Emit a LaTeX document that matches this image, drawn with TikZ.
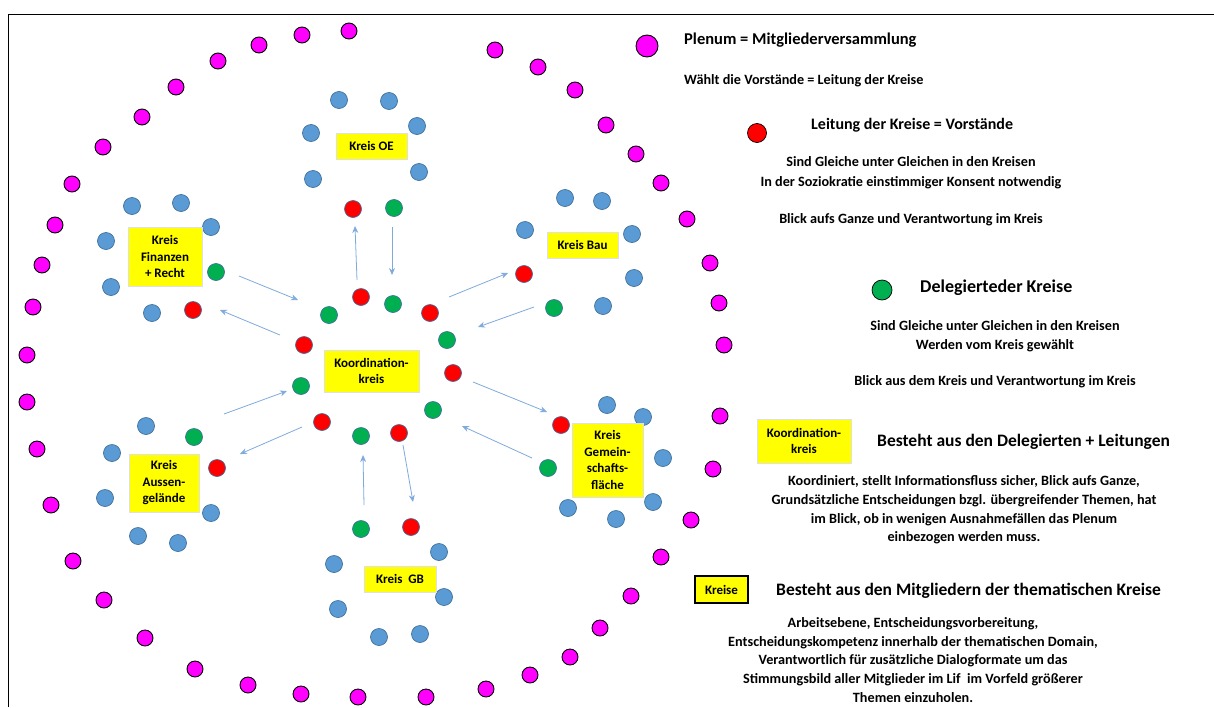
\documentclass[tikz,border=0pt]{standalone}
\usepackage{fontspec}
\setmainfont{Carlito}
\usetikzlibrary{arrows.meta, positioning}
\definecolor{memberblue}{HTML}{5B9BD5}
\definecolor{memberline}{HTML}{41719C}
\definecolor{leadred}{HTML}{FF0000}
\definecolor{delegreen}{HTML}{00B050}
\definecolor{plenummag}{HTML}{FF00FF}
\definecolor{boxyellow}{HTML}{FFFF00}
\definecolor{flowblue}{HTML}{7FAADC}
\tikzset{
  dot/.style={circle, inner sep=0pt, minimum size=17pt, line width=0.7pt, draw=memberline},
  member/.style={dot, fill=memberblue},
  lead/.style={dot, fill=leadred},
  deleg/.style={dot, fill=delegreen},
  plenum/.style={dot, fill=plenummag, draw=black, line width=0.9pt, minimum size=16pt},
  kreisbox/.style={fill=boxyellow, draw=black!12, line width=0.6pt, inner sep=0pt, align=center, font=\bfseries\fontsize{13}{16.5}\selectfont},
  flow/.style={draw=flowblue, line width=0.8pt, -{Stealth[length=7pt, width=6pt]}},
  headline/.style={font=\bfseries\fontsize{17.5}{20}\selectfont, inner sep=0pt},
  body/.style={font=\bfseries\fontsize{14.2}{18.6}\selectfont, align=center, inner sep=0pt},
}
\newcommand{\dotgroup}[3]{%
  \foreach \x/\y [count=\i] in {#3} {
    \node[#2] (#1\i) at (\x,\y) {};
  }%
}

\begin{document}
\begin{tikzpicture}[x=1pt, y=-1pt]
  \useasboundingbox (0,0) rectangle (1214,707);
  \draw[line width=1pt] (8,707) -- (8,14) -- (1214,14);

  % Plenum ring
  \dotgroup{pl}{plenum}{349/31, 302/35, 259/45, 218/61, 176/87, 142/117, 103/147, 72/184,
    55/225, 42/265, 33/307, 27/355, 27/402, 37/449, 51/505, 73/561, 104/600, 145/638,
    195/669, 248/685, 301/694, 358/697, 426/697, 486/689, 530/675, 570/657, 600/628,
    631/596, 661/557, 691/520, 713/469, 720/416, 724/345, 719/303, 710/263, 687/219,
    661/183, 636/154, 606/125, 575/90, 538/67, 495/50}

  % Kreis OE
  \dotgroup{oe}{member}{339/100, 389/101, 417/126, 311/133, 313/179, 419/172}
  \node[lead] (oel) at (353,209) {};
  \node[deleg] (oed) at (394,208) {};
  \node[kreisbox, minimum width=71pt, minimum height=26pt] (oebox) at (371.5,146) {Kreis OE};

  % Kreis Finanzen + Recht
  \dotgroup{fi}{member}{132/206, 181/203, 211/227, 106/241, 111/287, 152/313}
  \node[deleg] (fid) at (216,272) {};
  \node[lead] (fil) at (193,310) {};
  \node[kreisbox, minimum width=74pt, minimum height=59pt] (fibox) at (165,256.5) {Kreis\\Finanzen\\+ Recht};

  % Kreis Bau
  \dotgroup{ba}{member}{565/198, 602/201, 525/230, 632/234, 634/278, 603/306}
  \node[lead] (bal) at (524,274) {};
  \node[deleg] (bad) at (554,308) {};
  \node[kreisbox, minimum width=71pt, minimum height=26pt] (babox) at (582.5,245) {Kreis Bau};

  % Kreis Gemeinschaftsflaeche
  \dotgroup{ge}{member}{607/405, 643/417, 663/458, 653/502, 568/508, 616/519}
  \node[lead] (gel) at (561,425) {};
  \node[deleg] (ged) at (548,468) {};
  \node[kreisbox, minimum width=71pt, minimum height=74pt] (gebox) at (607.5,460) {Kreis\\Gemein-\\schafts-\\fläche};

  % Kreis GB
  \dotgroup{gb}{member}{439/552, 334/564, 444/597, 338/609, 379/637, 420/634}
  \node[deleg] (gbd) at (361,529) {};
  \node[lead] (gbl) at (411,527) {};
  \node[kreisbox, minimum width=72pt, minimum height=26pt] (gbbox) at (400,579) {Kreis\ \ GB};

  % Kreis Aussengelaende
  \dotgroup{au}{member}{146/426, 112/453, 105/498, 138/536, 178/543, 211/513}
  \node[deleg] (aud) at (194,437) {};
  \node[lead] (aul) at (217,468) {};
  \node[kreisbox, minimum width=70pt, minimum height=58pt] (aubox) at (164,483) {Kreis\\Aussen-\\gelände};

  % Koordinationskreis
  \node[lead] (ko1) at (361,297) {};
  \node[deleg] (ko2) at (393,304) {};
  \node[lead] (ko3) at (430,313) {};
  \node[deleg] (ko4) at (447,340) {};
  \node[lead] (ko5) at (453,373) {};
  \node[deleg] (ko6) at (433,410) {};
  \node[lead] (ko7) at (399,433) {};
  \node[deleg] (ko8) at (361,436) {};
  \node[lead] (ko9) at (322,422) {};
  \node[deleg] (ko10) at (301,386) {};
  \node[lead] (ko11) at (304,345) {};
  \node[deleg] (ko12) at (329,315) {};
  \node[kreisbox, minimum width=95pt, minimum height=42pt] (kobox) at (371.5,371) {Koordination-\\kreis};

  % flows between the circles
  \foreach \n/\sx/\sy/\ex/\ey in {oeup/357/280/355/226, oedown/392/227/392/275,
      fiin/239/276/298/300, fiout/280/335/220/310, bain/449/297/508/273, baout/534/307/478/327,
      gein/473/382/547/412, geout/532/458/462/426, gbup/364/505/363/455, gbdown/403/445/413/502,
      auin/224/414/287/391, auout/302/427/240/454} {
    \coordinate (\n-s) at (\sx,\sy);
    \coordinate (\n-e) at (\ex,\ey);
    \draw[flow] (\n-s) -- (\n-e);
  }

  % legend
  \node[plenum, minimum size=22pt] (lgpl) at (647,46) {};
  \node[headline, font=\bfseries\fontsize{16.5}{20}\selectfont, anchor=west] (plhead) at (684,40) {Plenum = Mitgliederversammlung};
  \node[body, anchor=west] (pltext) at (684,81) {Wählt die Vorstände = Leitung der Kreise};

  \node[lead, minimum size=19pt, draw=black] (lglead) at (757,133) {};
  \node[headline, font=\bfseries\fontsize{16}{20}\selectfont, anchor=west] (leadhead) at (811,125) {Leitung der Kreise = Vorstände};
  \node[body, font=\bfseries\fontsize{14.2}{20}\selectfont] (leadtext) at (911,173) {Sind Gleiche unter Gleichen in den Kreisen\\In der Soziokratie einstimmiger Konsent notwendig};
  \node[body] (leadtext2) at (911,220) {Blick aufs Ganze und Verantwortung im Kreis};

  \node[deleg, minimum size=20pt, draw=black] (lgdeleg) at (882,290) {};
  \node[headline, font=\bfseries\fontsize{18}{20}\selectfont, anchor=west] (deleghead) at (920,288) {Delegierteder Kreise};
  \node[body] (delegtext) at (995,336) {Sind Gleiche unter Gleichen in den Kreisen\\Werden vom Kreis gewählt};
  \node[body] (delegtext2) at (995,382) {Blick aus dem Kreis und Verantwortung im Kreis};

  \node[kreisbox, minimum width=94pt, minimum height=44pt] (lgko) at (804,441) {Koordination-\\kreis};
  \node[headline, anchor=west] (kohead) at (877,442) {Besteht aus den Delegierten + Leitungen};
  \node[body] (kotext) at (964,510) {Koordiniert, stellt Informationsfluss sicher, Blick aufs Ganze,\\Grundsätzliche Entscheidungen bzgl. übergreifender Themen, hat\\im Blick, ob in wenigen Ausnahmefällen das Plenum\\einbezogen werden muss.};

  \node[kreisbox, draw=black, line width=1.2pt, minimum width=53pt, minimum height=27pt] (lgkreise) at (721.5,589.5) {Kreise};
  \node[headline, anchor=west] (kreisehead) at (776,591) {Besteht aus den Mitgliedern der thematischen Kreise};
  \node[body] (kreisetext) at (913,660) {Arbeitsebene, Entscheidungsvorbereitung,\\Entscheidungskompetenz innerhalb der thematischen Domain,\\Verantwortlich für zusätzliche Dialogformate um das\\Stimmungsbild aller Mitglieder im Lif\ \ im Vorfeld größerer\\Themen einzuholen.};
\end{tikzpicture}
\end{document}
